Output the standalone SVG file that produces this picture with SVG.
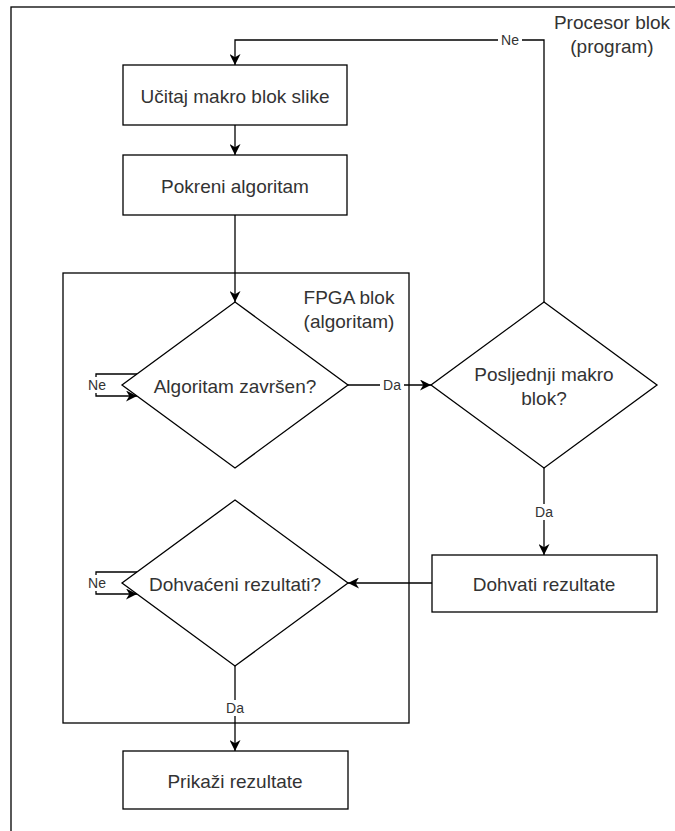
<svg xmlns="http://www.w3.org/2000/svg" width="675" height="831" viewBox="0 0 675 831">
<defs>
<marker id="arr" viewBox="0 0 10 10" refX="10" refY="5" markerWidth="11" markerHeight="11" markerUnits="userSpaceOnUse" orient="auto">
<path d="M0,0 L10,5 L0,10 L3,5 Z" fill="#000"/>
</marker>
<style>
.s{fill:#fff;stroke:#000;stroke-width:1.3}
.c{fill:none;stroke:#000;stroke-width:1.3}
.t{font-family:"Liberation Sans",Arial,sans-serif;font-size:19px;fill:#333;text-anchor:middle;dominant-baseline:central}
.l{font-family:"Liberation Sans",Arial,sans-serif;font-size:14px;fill:#333;text-anchor:middle;dominant-baseline:central}
.bg{fill:#fff}
</style>
</defs>
<rect x="0" y="0" width="675" height="831" fill="#fff"/>
<g id="outer"><rect x="11" y="7" width="700" height="900" class="c"/>
<text class="t" x="612" y="22">Procesor blok</text>
<text class="t" x="612" y="46">(program)</text></g>
<g id="fpga"><rect x="63" y="273" width="346" height="450" class="c"/>
<text class="t" x="349" y="297">FPGA blok</text>
<text class="t" x="349" y="321">(algoritam)</text></g>
<g id="n1"><rect x="123" y="65" width="224" height="60" class="s"/><text class="t" x="235" y="96">Učitaj makro blok slike</text></g>
<g id="n2"><rect x="123" y="155" width="224" height="60" class="s"/><text class="t" x="235" y="186">Pokreni algoritam</text></g>
<g id="d1"><polygon points="235,302 348,385 235,468 122,385" class="s"/><text class="t" x="235" y="386">Algoritam završen?</text></g>
<g id="d2"><polygon points="235,500 348,583 235,666 122,583" class="s"/><text class="t" x="235" y="584">Dohvaćeni rezultati?</text></g>
<g id="d3"><polygon points="544,302 657,385 544,468 431,385" class="s"/><text class="t" x="544" y="374">Posljednji makro</text><text class="t" x="544" y="398">blok?</text></g>
<g id="n3"><rect x="432" y="555" width="225" height="57" class="s"/><text class="t" x="544" y="584">Dohvati rezultate</text></g>
<g id="n4"><rect x="123" y="751" width="225" height="58" class="s"/><text class="t" x="235" y="781">Prikaži rezultate</text></g>
<g id="connectors">
<path class="c" d="M235,125 V155" marker-end="url(#arr)"/>
<path class="c" d="M235,215 V302" marker-end="url(#arr)"/>
<path class="c" d="M544,302 V40 H235 V65" marker-end="url(#arr)"/>
<path class="c" d="M348,385 H431" marker-end="url(#arr)"/>
<path class="c" d="M544,468 V555" marker-end="url(#arr)"/>
<path class="c" d="M432,583 H348" marker-end="url(#arr)"/>
<path class="c" d="M235,666 V751" marker-end="url(#arr)"/>
<path class="c" d="M137,374 H96 V396 H137" marker-end="url(#arr)"/>
<path class="c" d="M137,572 H96 V594 H137" marker-end="url(#arr)"/>
<rect class="bg" x="498" y="32" width="24" height="16"/><text class="l" x="510" y="40">Ne</text>
<rect class="bg" x="380" y="377" width="24" height="16"/><text class="l" x="392" y="385">Da</text>
<rect class="bg" x="532" y="504" width="24" height="16"/><text class="l" x="544" y="512">Da</text>
<rect class="bg" x="223" y="700" width="24" height="16"/><text class="l" x="235" y="708">Da</text>
<rect class="bg" x="85" y="377" width="24" height="16"/><text class="l" x="97" y="385">Ne</text>
<rect class="bg" x="85" y="575" width="24" height="16"/><text class="l" x="97" y="583">Ne</text>
</g>
</svg>
